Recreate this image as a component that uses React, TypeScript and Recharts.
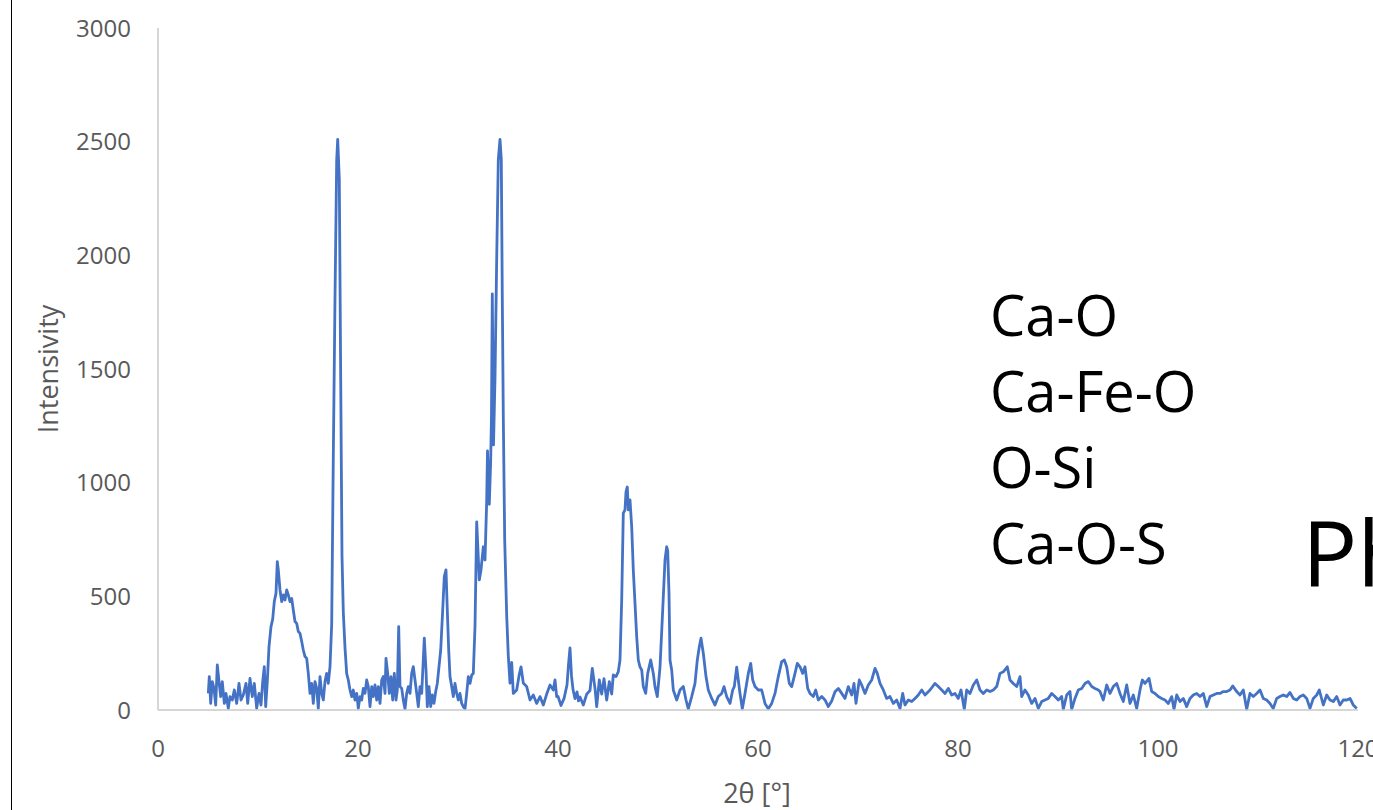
import { LineChart, Line, XAxis, YAxis } from "recharts";

// [2θ, intensity] pairs
const lowAngle: [number, number][] = [
  [5.03, 73], [5.13, 147], [5.27, 29], [5.43, 125], [5.6, 95], [5.77, 22], [5.93, 198],
  [6.1, 125], [6.27, 59], [6.43, 125], [6.63, 29], [6.8, 73], [7.03, 7], [7.2, 59],
  [7.43, 44], [7.63, 88], [7.87, 29], [8.1, 117], [8.3, 44], [8.53, 66], [8.8, 117],
  [8.97, 29], [9.2, 139], [9.43, 59], [9.63, 117], [9.87, 7], [10.1, 73], [10.3, 22],
  [10.47, 125], [10.63, 191], [10.77, 15], [10.93, 125], [11.1, 279], [11.3, 367],
  [11.47, 400], [11.63, 477], [11.8, 513], [11.93, 653], [12.03, 616], [12.2, 528],
  [12.37, 477], [12.53, 506], [12.7, 484], [12.87, 528], [13.03, 506], [13.2, 477],
  [13.37, 491], [13.53, 440], [13.7, 389], [13.87, 381], [14.03, 345], [14.2, 337],
  [14.37, 301], [14.53, 264], [14.7, 235], [14.87, 227], [15.03, 161], [15.2, 73],
  [15.37, 117], [15.53, 29], [15.7, 125], [15.87, 95], [16.03, 7], [16.2, 147],
  [16.37, 73], [16.53, 44], [16.7, 125], [16.87, 161], [17.03, 117], [17.2, 191],
];

const peak18: [number, number][] = [
  [17.37, 378], [17.53, 1113], [17.7, 1812], [17.87, 2420], [17.97, 2510], [18.13, 2336],
  [18.27, 1460], [18.4, 678], [18.53, 431], [18.7, 273], [18.87, 160],
];

const midAngle: [number, number][] = [
  [19.03, 132], [19.2, 88], [19.37, 59], [19.53, 88], [19.7, 44], [19.87, 73], [20.03, 7],
  [20.2, 59], [20.37, 44], [20.53, 95], [20.7, 73], [20.87, 132], [21.03, 103], [21.2, 15],
  [21.37, 103], [21.53, 59], [21.7, 110], [21.87, 44], [22.03, 103], [22.2, 29],
  [22.37, 132], [22.53, 147], [22.7, 73], [22.8, 227], [22.97, 161], [23.13, 73],
  [23.3, 147], [23.47, 44], [23.63, 161], [23.8, 44], [23.93, 88], [24.07, 367],
  [24.2, 103], [24.37, 95], [24.53, 44], [24.7, 5], [24.87, 73], [25.03, 103], [25.2, 73],
  [25.37, 161], [25.53, 191], [25.7, 132], [25.87, 73], [26.03, 15], [26.2, 103],
  [26.37, 73], [26.53, 220], [26.63, 316], [26.8, 176], [26.93, 15], [27.1, 103],
  [27.27, 15], [27.43, 66], [27.6, 29], [27.77, 81], [27.93, 117], [28.1, 191],
  [28.27, 264], [28.47, 440], [28.63, 587], [28.8, 616], [28.93, 440], [29.07, 264],
  [29.2, 147], [29.37, 103], [29.53, 59], [29.7, 117], [29.87, 73], [30.03, 44],
  [30.2, 73], [30.37, 29], [30.53, 15], [30.7, 5], [30.87, 73], [31.03, 147],
  [31.2, 117], [31.37, 154], [31.53, 161], [31.7, 367], [31.87, 827], [32.13, 572],
  [32.3, 616], [32.53, 718], [32.7, 660],
];

const peak34: [number, number][] = [
  [32.87, 920], [32.95, 1140], [33.13, 905], [33.27, 1100], [33.35, 1300], [33.43, 1830],
  [33.55, 1166], [33.7, 1460], [33.87, 1985], [34.03, 2420], [34.2, 2510], [34.33, 2420],
  [34.43, 1812], [34.53, 1290], [34.67, 748], [34.87, 414], [35.03, 238], [35.2, 118],
  [35.37, 209], [35.53, 73], [35.87, 88], [36.1, 150], [36.3, 190], [36.53, 119],
  [36.87, 103], [37.2, 44], [37.53, 66], [37.87, 29], [38.2, 59], [38.53, 22],
  [38.87, 70], [39.2, 110], [39.53, 88], [39.7, 132], [39.87, 59], [40.0, 60],
  [40.3, 20], [40.6, 50], [40.9, 110], [41.05, 200], [41.2, 273], [41.35, 150],
  [41.5, 90], [41.7, 50], [41.9, 80], [42.05, 40],
];

const peaks47to67: [number, number][] = [
  [42.2, 57], [42.53, 22], [42.87, 70], [43.2, 86], [43.43, 183], [43.7, 95], [43.87, 15],
  [44.13, 132], [44.37, 70], [44.6, 138], [44.87, 44], [45.13, 125], [45.37, 70],
  [45.53, 154], [45.8, 147], [46.03, 169], [46.2, 220], [46.37, 484], [46.53, 866],
  [46.7, 880], [46.8, 960], [46.93, 981], [47.03, 880], [47.2, 924], [47.37, 806],
  [47.53, 616], [47.7, 469], [47.87, 322], [48.03, 220], [48.2, 190], [48.37, 176],
  [48.53, 103], [48.77, 73], [48.97, 161], [49.27, 220], [49.53, 161], [49.7, 103],
  [49.93, 59], [50.2, 188], [50.47, 440], [50.7, 660], [50.87, 718], [50.97, 700],
  [51.1, 513], [51.2, 220], [51.37, 176], [51.53, 88], [51.87, 44], [52.2, 88],
  [52.53, 103], [52.8, 44], [53.03, 5], [53.37, 59], [53.7, 117], [53.93, 220],
  [54.13, 278], [54.3, 316], [54.53, 250], [54.8, 147], [55.03, 88], [55.37, 51],
  [55.7, 22], [56.03, 59], [56.37, 73], [56.6, 103], [56.87, 59], [57.2, 29], [57.47, 88],
  [57.63, 103], [57.87, 188], [58.03, 132], [58.2, 73], [58.43, 5], [58.7, 73],
  [59.03, 161], [59.27, 205], [59.47, 132], [59.7, 103], [60.03, 88], [60.37, 88],
  [60.7, 29], [61.03, 5], [61.37, 29], [61.7, 73], [62.03, 147], [62.37, 213],
  [62.63, 220], [62.87, 190], [63.13, 117], [63.37, 103], [63.7, 161], [63.93, 205],
  [64.2, 190], [64.47, 161], [64.7, 190], [64.97, 95], [65.2, 73], [65.53, 59],
  [65.77, 88], [66.03, 44], [66.37, 59], [66.7, 44], [67.03, 15],
];

const highAngle: [number, number][] = [
  [67.37, 40], [67.7, 80], [68.03, 95], [68.37, 73], [68.7, 51], [69.03, 103], [69.37, 66],
  [69.6, 117], [69.8, 29], [70.13, 132], [70.37, 110], [70.7, 73], [71.03, 110],
  [71.37, 132], [71.7, 183], [71.93, 161], [72.2, 117], [72.53, 88], [72.87, 51],
  [73.2, 59], [73.53, 29], [73.87, 44], [74.2, 7], [74.47, 73], [74.7, 22], [75.03, 44],
  [75.37, 37], [75.7, 51], [76.03, 66], [76.37, 88], [76.7, 66], [77.2, 88], [77.7, 117],
  [78.03, 103], [78.37, 88], [78.7, 73], [79.03, 95], [79.37, 66], [79.7, 73],
  [80.03, 51], [80.3, 88], [80.63, 3], [80.87, 88], [81.2, 73], [81.53, 110],
  [81.87, 132], [82.2, 88], [82.53, 73], [82.87, 88], [83.2, 81], [83.53, 88],
  [83.87, 103], [84.2, 161], [84.53, 168], [84.93, 190], [85.2, 132], [85.53, 117],
  [85.87, 103], [86.2, 147], [86.37, 59], [86.7, 88], [87.03, 66], [87.37, 29],
  [87.7, 51], [88.03, 7], [88.37, 37], [88.7, 44], [89.03, 51], [89.37, 73], [89.7, 59],
  [90.03, 44], [90.37, 59], [90.53, 3], [90.87, 66], [91.2, 81], [91.37, 3], [91.7, 51],
  [92.03, 88], [92.37, 95], [92.7, 117], [93.03, 125], [93.37, 103], [93.7, 95],
  [94.03, 88], [94.2, 81], [94.53, 44], [94.87, 110], [95.2, 73], [95.53, 103],
  [95.87, 117], [96.2, 73], [96.53, 37], [96.87, 110], [97.2, 29], [97.53, 66],
  [97.87, 7], [98.2, 88], [98.43, 132], [98.7, 117], [99.1, 139], [99.37, 81],
  [99.7, 73], [100.03, 59], [100.37, 51], [100.7, 44], [101.03, 29], [101.37, 59],
  [101.6, 3], [101.87, 66], [102.2, 37], [102.53, 51], [102.87, 15], [103.2, 51],
  [103.53, 66], [103.87, 73], [104.2, 59], [104.53, 73], [104.87, 15], [105.2, 59],
  [105.53, 66], [105.87, 73], [106.2, 73], [106.53, 81], [106.87, 81], [107.2, 88],
  [107.47, 106], [107.87, 81], [108.2, 66], [108.53, 88], [108.87, 3], [109.2, 73],
  [109.53, 59], [109.87, 73], [110.2, 88], [110.53, 51], [110.87, 44], [111.2, 29],
  [111.53, 7], [111.87, 51], [112.2, 59], [112.53, 66], [112.87, 59], [113.2, 77],
  [113.53, 51], [113.87, 44], [114.2, 59], [114.53, 66], [114.87, 51], [115.2, 7],
  [115.53, 51], [115.87, 66], [116.13, 88], [116.53, 22], [116.87, 66], [117.2, 44],
  [117.53, 37], [117.87, 59], [118.2, 22], [118.53, 44], [118.87, 44], [119.2, 51],
  [119.53, 22], [119.87, 7],
];

const xTicks = [0, 20, 40, 60, 80, 100, 120];
const yTicks = [0, 500, 1000, 1500, 2000, 2500, 3000];
const phases = ["Ca-O", "Ca-Fe-O", "O-Si", "Ca-O-S"];

const data = [...lowAngle, ...peak18, ...midAngle, ...peak34, ...peaks47to67, ...highAngle].map(
  ([x, y]) => ({ x, y })
);

const font = "'Open Sans', sans-serif";
const tickStyle = { fontSize: 24, fill: "#595959", fontFamily: font };

export default function App() {
  return (
    <div
      style={{
        position: "absolute",
        left: 0,
        top: 0,
        width: 1373,
        height: 810,
        overflow: "hidden",
        background: "#fff",
        fontFamily: font,
      }}
    >
      <div style={{ position: "absolute", left: 11, top: 0, width: 1, height: 810, background: "#000" }} />
      <div style={{ position: "absolute", left: 0, top: 0 }}>
        <LineChart width={1460} height={810} data={data} margin={{ top: 28, right: 102, bottom: 0, left: 0 }}>
          <XAxis
            type="number"
            dataKey="x"
            domain={[0, 120]}
            ticks={xTicks}
            height={100}
            tickLine={false}
            tickSize={0}
            tickMargin={30}
            stroke="#c8c8c8"
            strokeWidth={1.5}
            tick={tickStyle}
            interval={0}
          />
          <YAxis
            type="number"
            domain={[0, 3000]}
            ticks={yTicks}
            width={158}
            tickLine={false}
            tickSize={0}
            tickMargin={27}
            stroke="#c8c8c8"
            strokeWidth={1.5}
            tick={tickStyle}
            interval={0}
          />
          <Line
            type="linear"
            dataKey="y"
            stroke="#4472C4"
            strokeWidth={2.8}
            strokeLinejoin="round"
            dot={false}
            isAnimationActive={false}
          />
        </LineChart>
      </div>
      <div
        style={{
          position: "absolute",
          left: 47,
          top: 369,
          transform: "translate(-50%, -50%) rotate(-90deg)",
          fontSize: 27,
          color: "#595959",
          whiteSpace: "nowrap",
        }}
      >
        Intensivity
      </div>
      <div
        style={{
          position: "absolute",
          left: 757,
          top: 792,
          transform: "translate(-50%, -50%)",
          fontSize: 27,
          lineHeight: 1,
          color: "#595959",
          whiteSpace: "nowrap",
        }}
      >
        2θ [°]
      </div>
      <div style={{ position: "absolute", left: 990, top: 276, fontSize: 56, lineHeight: "76px", color: "#000" }}>
        {phases.map((p) => (
          <div key={p}>{p}</div>
        ))}
      </div>
      <div style={{ position: "absolute", left: 1302, top: 506, fontSize: 92, lineHeight: 1, color: "#000" }}>
        Ph
      </div>
    </div>
  );
}
